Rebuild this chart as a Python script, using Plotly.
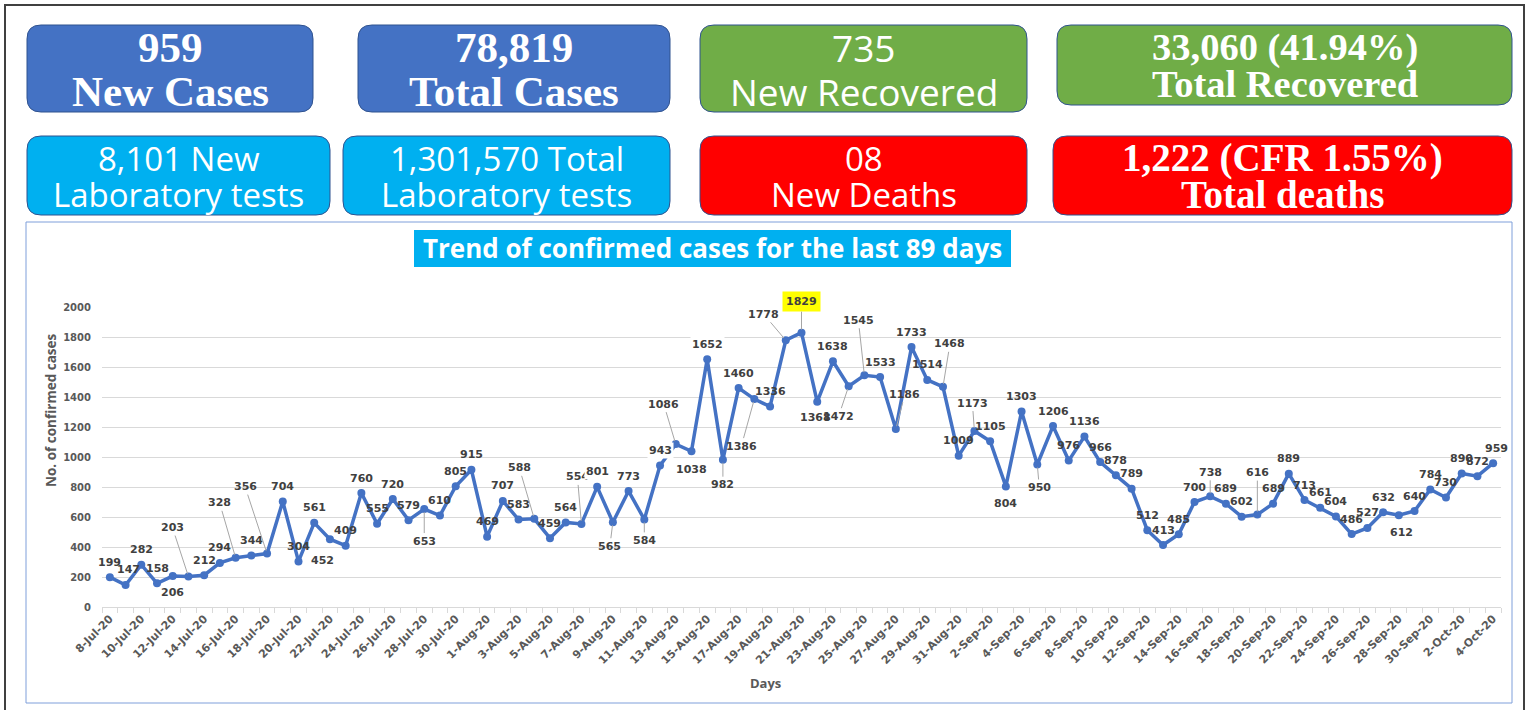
import plotly.graph_objects as go
import pandas as pd

# ---------------- data ----------------
start_date = "2020-07-08"
n_days = 89
dates = pd.date_range(start_date, periods=n_days)
date_labels = [f"{d.day}-{d.strftime('%b')}-{d.strftime('%y')}" for d in dates]

cases = [199, 147, 282, 158, 206, 203, 212, 294, 328, 344, 356, 704, 304, 561, 452, 409,
         760, 555, 720, 579, 653, 610, 805, 915,
         469, 707, 583, 588, 459, 564, 554, 801, 565, 773, 584, 943, 1086, 1038, 1652, 982,
         1460, 1386, 1336, 1778, 1829, 1368, 1638, 1472, 1545, 1533, 1186, 1733, 1514, 1468,
         1009, 1173, 1105, 804, 1303, 950, 1206, 976, 1136, 966, 878, 789, 512, 413, 485, 700,
         738, 689, 602, 616, 689, 889, 713, 661, 604, 486, 527, 632, 612, 640, 784,
         730, 890, 872, 959]

y_ticks = [0, 200, 400, 600, 800, 1000, 1200, 1400, 1600, 1800, 2000]

box_lines = [
    ("959", "New Cases"),
    ("78,819", "Total Cases"),
    ("735", "New Recovered"),
    ("33,060 (41.94%)", "Total Recovered"),
    ("8,101 New", "Laboratory tests"),
    ("1,301,570 Total", "Laboratory tests"),
    ("08", "New Deaths"),
    ("1,222 (CFR 1.55%)", "Total deaths"),
]
title_text = "Trend of confirmed cases for the last 89 days"

# ---------------- layout helpers ----------------
W, H = 1531, 710
def X(x): return x / W
def Y(y): return 1 - y / H

def rrect(x0, y0, x1, y1, r):
    return (f"M {X(x0+r)},{Y(y0)} L {X(x1-r)},{Y(y0)} Q {X(x1)},{Y(y0)} {X(x1)},{Y(y0+r)} "
            f"L {X(x1)},{Y(y1-r)} Q {X(x1)},{Y(y1)} {X(x1-r)},{Y(y1)} "
            f"L {X(x0+r)},{Y(y1)} Q {X(x0)},{Y(y1)} {X(x0)},{Y(y1-r)} "
            f"L {X(x0)},{Y(y0+r)} Q {X(x0)},{Y(y0)} {X(x0+r)},{Y(y0)} Z")

BLUE, GREEN, CYAN, RED = "#4472C4", "#70AD47", "#00B0F0", "#FF0000"
SERIF = "Liberation Serif"
SANS = "Open Sans"
# (x0, y0, x1, y1, fill, font, size1, size2, ycenter1, ycenter2, bold)
box_styles = [
    (27, 25, 313, 112, BLUE, SERIF, 43, 43, 47, 91, True),
    (358, 25, 670, 112, BLUE, SERIF, 43, 43, 47, 91, True),
    (700, 25, 1027, 112, GREEN, SANS, 37, 37, 47, 91, False),
    (1057, 25, 1512, 105, GREEN, SERIF, 38.5, 38.5, 47, 84, True),
    (27, 136, 330, 215, CYAN, SANS, 33, 33, 158, 194, False),
    (343, 136, 670, 215, CYAN, SANS, 33, 33, 158, 194, False),
    (700, 136, 1027, 215, RED, SANS, 33, 33, 158, 194, False),
    (1053, 136, 1512, 215, RED, SERIF, 39, 39, 158, 194, True),
]

# data-label placement: default above the point; overrides (dx, dy, leader)
label_default = (0, -15, False)
label_override = {
    1: (3, -15, False), 4: (0, 16, False), 5: (-16, -49, True), 8: (-16, -55, True),
    10: (-22, -67, True), 14: (-7, 21, False), 20: (0, 32, True), 27: (-15, -51, True),
    30: (-4, -47, True), 32: (-3, 24, True), 34: (0, 21, True), 36: (-12, -40, True),
    37: (0, 18, False), 39: (0, 25, True), 41: (-13, 47, True), 43: (-22, -26, True),
    44: (0, -31, True), 45: (-2, 16, False), 47: (-10, 30, True), 48: (-6, -55, True),
    50: (9, -35, True), 53: (7, -43, True), 55: (-2, -28, True), 57: (0, 17, False),
    59: (2, 23, True), 70: (0, -24, True), 73: (0, -42, True), 82: (3, 17, False),
    88: (3, -15, False),
}
white_bg = {31, 35, 38}
highlight = {44}

# ---------------- figure ----------------
x_idx = list(range(n_days))
fig = go.Figure()
fig.add_trace(go.Scatter(
    x=x_idx, y=cases, mode="lines+markers",
    line=dict(color=BLUE, width=3.5),
    marker=dict(size=8, color=BLUE),
    hoverinfo="skip", showlegend=False,
))

shapes = []
annotations = []

# outer frame
shapes.append(dict(type="rect", xref="paper", yref="paper",
                   x0=X(5), x1=X(1524), y0=Y(714), y1=Y(5),
                   line=dict(color="#404040", width=2), fillcolor="rgba(0,0,0,0)", layer="below"))
# chart frame
shapes.append(dict(type="rect", xref="paper", yref="paper",
                   x0=X(26), x1=X(1512), y0=Y(703), y1=Y(222),
                   line=dict(color="#7F9FDA", width=1), fillcolor="white", layer="below"))

# header boxes
for (t1, t2), (x0, y0, x1, y1, fill, fam, s1, s2, yc1, yc2, bold) in zip(box_lines, box_styles):
    shapes.append(dict(type="path", xref="paper", yref="paper", path=rrect(x0, y0, x1, y1, 14),
                       fillcolor=fill, line=dict(color="#2F528F", width=1), layer="below"))
    xc = (x0 + x1) / 2
    for txt, sz, yc in ((t1, s1, yc1), (t2, s2, yc2)):
        annotations.append(dict(xref="paper", yref="paper", x=X(xc), y=Y(yc),
                                text=f"<b>{txt}</b>" if bold else txt, showarrow=False,
                                xanchor="center", yanchor="middle",
                                font=dict(family=fam, size=sz, color="white")))

# chart title
shapes.append(dict(type="rect", xref="paper", yref="paper",
                   x0=X(414), x1=X(1011), y0=Y(267), y1=Y(230),
                   fillcolor=CYAN, line=dict(width=0), layer="below"))
annotations.append(dict(xref="paper", yref="paper", x=X(712), y=Y(248.5), text=f"<b>{title_text}</b>",
                        showarrow=False, xanchor="center", yanchor="middle",
                        font=dict(family=SANS, size=26, color="white")))

# axis titles
annotations.append(dict(xref="paper", yref="paper", x=X(51), y=Y(411), text="<b>No. of confirmed cases</b>",
                        showarrow=False, textangle=-90, xanchor="center", yanchor="middle",
                        font=dict(family=SANS, size=13.5, color="#595959")))
annotations.append(dict(xref="paper", yref="paper", x=X(765), y=Y(683), text="<b>Days</b>",
                        showarrow=False, xanchor="center", yanchor="middle",
                        font=dict(family=SANS, size=13, color="#595959")))

# data labels
LBL_FONT = dict(family="DejaVu Sans", size=11, color="#404040")
for i, v in enumerate(cases):
    dx, dy, leader = label_override.get(i, label_default)
    extra = {}
    if i in white_bg:
        extra["bgcolor"] = "white"
    if i in highlight:
        extra["bgcolor"] = "#FFFF00"
        extra["borderpad"] = 3
    if leader:
        annotations.append(dict(xref="x", yref="y", x=i, y=v, ax=dx, ay=dy,
                                text=f"<b>{v}</b>", showarrow=True, arrowhead=0,
                                arrowwidth=1, arrowcolor="#A6A6A6", standoff=3,
                                font=LBL_FONT, **extra))
    else:
        annotations.append(dict(xref="x", yref="y", x=i, y=v, xshift=dx, yshift=-dy,
                                text=f"<b>{v}</b>", showarrow=False,
                                xanchor="center", yanchor="middle",
                                font=LBL_FONT, **extra))

fig.update_layout(
    width=W, height=H,
    margin=dict(l=0, r=0, t=0, b=0, autoexpand=False),
    paper_bgcolor="white", plot_bgcolor="rgba(0,0,0,0)",
    shapes=shapes, annotations=annotations,
    xaxis=dict(
        domain=[X(102), X(1501)], range=[-0.5, n_days - 0.5],
        tickmode="array", tickvals=x_idx[::2], ticktext=date_labels[::2],
        tickangle=-45, ticks="", showgrid=False, zeroline=False, automargin=False,
        showline=True, linecolor="#D9D9D9", linewidth=1,
        tickfont=dict(family="DejaVu Sans", size=11, color="#595959", weight="bold"),
        minor=dict(ticks="outside", ticklen=5, tickcolor="#D9D9D9", tick0=-0.5, dtick=1, showgrid=False),
        fixedrange=True,
    ),
    yaxis=dict(
        domain=[Y(607), Y(307)], range=[0, 2000], automargin=False,
        tickmode="array", tickvals=y_ticks, ticktext=[str(t) for t in y_ticks],
        showgrid=True, gridcolor="#D9D9D9", gridwidth=1, zeroline=False, showline=False,
        tickfont=dict(family="DejaVu Sans", size=10, color="#595959", weight="bold"),
        ticklabelstandoff=10,
        fixedrange=True,
    ),
)

fig.write_html(
    "out.html",
    config={"displayModeBar": False},
    post_script="document.body.style.margin='0';document.body.style.overflow='hidden';",
)
